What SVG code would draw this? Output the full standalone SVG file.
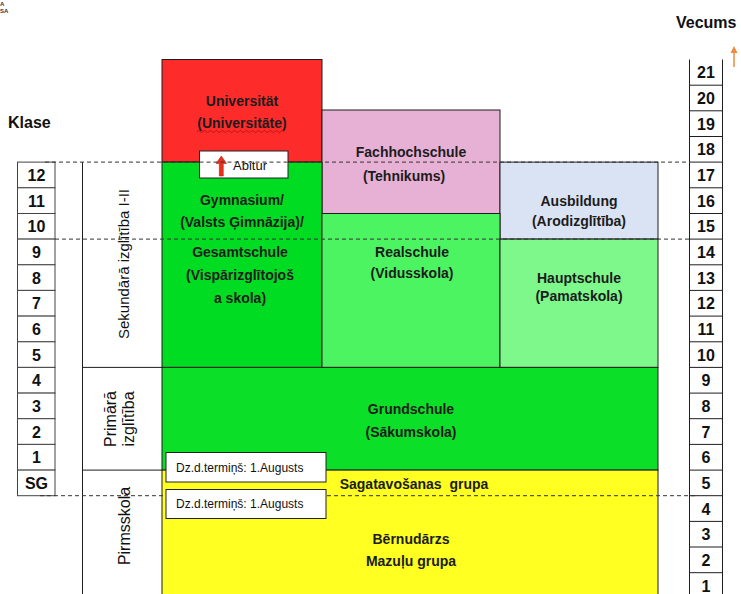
<svg xmlns="http://www.w3.org/2000/svg" width="741" height="594" viewBox="0 0 741 594">
<style>
.blk{stroke:#1e1e1e;stroke-width:1}
.lbl{font-family:"Liberation Sans",Arial,sans-serif;font-weight:bold;font-size:14px;fill:#1c1c1c;text-anchor:middle}
.num{font-family:"Liberation Sans",Arial,sans-serif;font-weight:bold;font-size:16px;fill:#111;text-anchor:middle}
.cell{fill:#fff;stroke:#444;stroke-width:1}
.cat{font-family:"Liberation Sans",Arial,sans-serif;font-size:15px;fill:#111;text-anchor:middle}
.note{font-family:"Liberation Sans",Arial,sans-serif;font-size:12px;fill:#111}
.dash{stroke:#333;stroke-width:1;stroke-dasharray:4 3;fill:none}
.line{stroke:#1e1e1e;stroke-width:1;fill:none}
.ttl{font-family:"Liberation Sans",Arial,sans-serif;font-weight:bold;font-size:16px;fill:#111}
.tiny{font-family:"Liberation Sans",Arial,sans-serif;font-weight:bold;font-size:6px;fill:#333}
</style>
<rect width="741" height="594" fill="#fff"/>
<text class="tiny" x="0" y="6">A</text>
<text class="tiny" x="0" y="13">SA</text>

<text class="ttl" x="8" y="128">Klase</text>
<text class="ttl" x="676" y="28">Vecums</text>
<g id="age-arrow">
<line x1="734" y1="67" x2="734" y2="52" stroke="#f08a3c" stroke-width="1.5"/>
<polygon points="730.5,53 734,46 737.5,53" fill="#f08a3c"/>
</g>

<!-- Klase column -->
<g id="klase">
<rect class="cell" x="17.5" y="162.1" width="37.5" height="25.7"/>
<rect class="cell" x="17.5" y="187.8" width="37.5" height="25.7"/>
<rect class="cell" x="17.5" y="213.5" width="37.5" height="25.6"/>
<rect class="cell" x="17.5" y="239.1" width="37.5" height="25.7"/>
<rect class="cell" x="17.5" y="264.8" width="37.5" height="25.6"/>
<rect class="cell" x="17.5" y="290.4" width="37.5" height="25.7"/>
<rect class="cell" x="17.5" y="316.1" width="37.5" height="25.7"/>
<rect class="cell" x="17.5" y="341.8" width="37.5" height="25.6"/>
<rect class="cell" x="17.5" y="367.4" width="37.5" height="25.7"/>
<rect class="cell" x="17.5" y="393.1" width="37.5" height="25.6"/>
<rect class="cell" x="17.5" y="418.7" width="37.5" height="25.7"/>
<rect class="cell" x="17.5" y="444.4" width="37.5" height="25.7"/>
<rect class="cell" x="17.5" y="470.1" width="37.5" height="25.6"/>
<text class="num" x="36.5" y="180.9">12</text>
<text class="num" x="36.5" y="206.6">11</text>
<text class="num" x="36.5" y="232.3">10</text>
<text class="num" x="36.5" y="257.9">9</text>
<text class="num" x="36.5" y="283.6">8</text>
<text class="num" x="36.5" y="309.2">7</text>
<text class="num" x="36.5" y="334.9">6</text>
<text class="num" x="36.5" y="360.6">5</text>
<text class="num" x="36.5" y="386.2">4</text>
<text class="num" x="36.5" y="411.9">3</text>
<text class="num" x="36.5" y="437.5">2</text>
<text class="num" x="36.5" y="463.2">1</text>
<text class="num" x="36.5" y="488.9">SG</text>
</g>

<!-- Vecums column -->
<g id="vecums">
<path class="line" d="M689.5 59.5V600M722.5 59.5V600"/>
<path class="line" d="M689.5 85.2H722.5M689.5 110.8H722.5M689.5 136.5H722.5M689.5 162.1H722.5M689.5 187.8H722.5M689.5 213.5H722.5M689.5 239.1H722.5M689.5 264.8H722.5M689.5 290.4H722.5M689.5 316.1H722.5M689.5 341.8H722.5M689.5 367.4H722.5M689.5 393.1H722.5M689.5 418.7H722.5M689.5 444.4H722.5M689.5 470.1H722.5M689.5 495.7H722.5M689.5 521.4H722.5M689.5 547H722.5M689.5 572.7H722.5"/>
<text class="num" x="706" y="78.3">21</text>
<text class="num" x="706" y="104">20</text>
<text class="num" x="706" y="129.6">19</text>
<text class="num" x="706" y="155.3">18</text>
<text class="num" x="706" y="180.9">17</text>
<text class="num" x="706" y="206.6">16</text>
<text class="num" x="706" y="232.3">15</text>
<text class="num" x="706" y="257.9">14</text>
<text class="num" x="706" y="283.6">13</text>
<text class="num" x="706" y="309.2">12</text>
<text class="num" x="706" y="334.9">11</text>
<text class="num" x="706" y="360.6">10</text>
<text class="num" x="706" y="386.2">9</text>
<text class="num" x="706" y="411.9">8</text>
<text class="num" x="706" y="437.5">7</text>
<text class="num" x="706" y="463.2">6</text>
<text class="num" x="706" y="488.9">5</text>
<text class="num" x="706" y="514.5">4</text>
<text class="num" x="706" y="540.2">3</text>
<text class="num" x="706" y="565.8">2</text>
<text class="num" x="706" y="591.5">1</text>
</g>

<!-- Category column -->
<g id="categories">
<path class="line" d="M82.5 162.1V594M82.5 367.4H162M82.5 470.1H162"/>
<text class="cat" transform="translate(129 264) rotate(-90)">Sekundārā izglītība I-II</text>
<text class="cat" transform="translate(116 419) rotate(-90)" style="font-size:16px">Primārā</text>
<text class="cat" transform="translate(134 419) rotate(-90)" style="font-size:16px">izglītība</text>
<text class="cat" transform="translate(130 526) rotate(-90)" style="font-size:16px">Pirmsskola</text>
</g>

<!-- Blocks -->
<g id="universitat">
<rect class="blk" x="162" y="59.5" width="160" height="102.6" fill="#fe2b2b"/>
<text class="lbl" x="242" y="106">Universität</text>
<text class="lbl" x="242" y="128">(Universitāte)</text>
<path d="M197 131.5q1.5-2 3 0t3 0t3 0t3 0t3 0t3 0t3 0t3 0t3 0t3 0t3 0t3 0t3 0t3 0t3 0t3 0t3 0t3 0t3 0t3 0t3 0t3 0t3 0t3 0t3 0t3 0t3 0t3 0t3 0" fill="none" stroke="#b01010" stroke-width="0.8"/>
</g>
<g id="fachhochschule">
<rect class="blk" x="322" y="110" width="178" height="103.5" fill="#e7b1d5"/>
<text class="lbl" x="411" y="157">Fachhochschule</text>
<text class="lbl" x="404" y="181">(Tehnikums)</text>
</g>
<g id="ausbildung">
<rect class="blk" x="500" y="162.1" width="158" height="77" fill="#dae3f3"/>
<text class="lbl" x="579" y="206">Ausbildung</text>
<text class="lbl" x="579" y="226">(Arodizglītība)</text>
</g>
<g id="gymnasium">
<rect class="blk" x="162" y="162.1" width="160" height="205.3" fill="#00dc22"/>
<text class="lbl" x="242" y="205">Gymnasium/</text>
<text class="lbl" x="242" y="227">(Valsts Ģimnāzija)/</text>
<text class="lbl" x="240" y="257">Gesamtschule</text>
<text class="lbl" x="240" y="280">(Vispārizglītojoš</text>
<text class="lbl" x="240" y="303">a skola)</text>
</g>
<g id="realschule">
<rect class="blk" x="322" y="213.5" width="178" height="153.9" fill="#4cf462"/>
<text class="lbl" x="412" y="257">Realschule</text>
<text class="lbl" x="412" y="278">(Vidusskola)</text>
</g>
<g id="hauptschule">
<rect class="blk" x="500" y="239.1" width="158" height="128.3" fill="#7ef78b"/>
<text class="lbl" x="579" y="283">Hauptschule</text>
<text class="lbl" x="579" y="301">(Pamatskola)</text>
</g>
<g id="grundschule">
<rect class="blk" x="162" y="367.4" width="496" height="102.7" fill="#0bdf28"/>
<text class="lbl" x="411" y="414">Grundschule</text>
<text class="lbl" x="411" y="437">(Sākumskola)</text>
</g>
<g id="pirmsskola">
<rect class="blk" x="162" y="470.1" width="496" height="130" fill="#ffff22"/>
<text class="lbl" x="414" y="489" xml:space="preserve">Sagatavošanas  grupa</text>
<text class="lbl" x="411" y="544">Bērnudārzs</text>
<text class="lbl" x="411" y="566">Mazuļu grupa</text>
</g>

<!-- Guide lines -->
<g id="connectors">
<line class="dash" x1="45" y1="162.1" x2="690" y2="162.1"/>
<line class="dash" x1="55" y1="239.1" x2="690" y2="239.1"/>
<line class="dash" x1="40" y1="495.7" x2="695" y2="495.7"/>
</g>

<g id="abitur">
<rect x="199.5" y="151" width="88.5" height="27" fill="#fff" stroke="#222" stroke-width="1"/>
<polygon points="219.3,176 219.3,163.5 216,163.5 221.3,156 226.6,163.5 223.3,163.5 223.3,176" fill="#e8301c" stroke="#a01a10" stroke-width="0.5"/>
<text class="note" x="233" y="170" style="font-size:13px">Abitur</text>
<line class="dash" x1="199.5" y1="162.1" x2="288" y2="162.1"/>
</g>
<g id="dz1">
<rect x="166" y="452.5" width="160" height="29.5" fill="#fff" stroke="#222" stroke-width="1"/>
<text class="note" x="176" y="471.5">Dz.d.termiņš: 1.Augusts</text>
</g>
<g id="dz2">
<rect x="166" y="489.5" width="160" height="29" fill="#fff" stroke="#222" stroke-width="1"/>
<text class="note" x="176" y="508">Dz.d.termiņš: 1.Augusts</text>
</g>
</svg>
